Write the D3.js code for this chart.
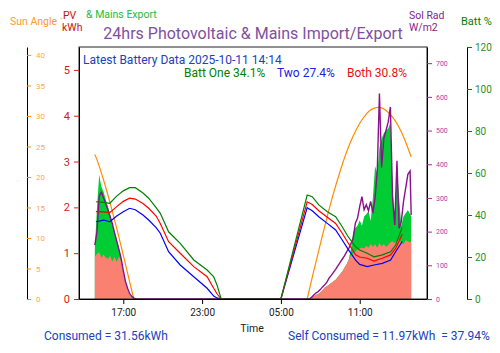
<!DOCTYPE html>
<html>
<head>
<meta charset="utf-8">
<script src="https://cdn.jsdelivr.net/npm/d3@7"></script>
<style>
    body { margin: 0; background: #fff; }
    svg { font-family: Roboto, sans-serif; display: block; }
</style>
</head>
<body>
<div id="chart"></div>
<script>
// 10 minute solar samples (night is zero between 18:00 and 07:00)
var pvTimes = [
    '2025-10-10 14:50', '2025-10-10 15:00', '2025-10-10 15:10', '2025-10-10 15:20', '2025-10-10 15:30',
    '2025-10-10 15:40', '2025-10-10 15:50', '2025-10-10 16:00', '2025-10-10 16:10', '2025-10-10 16:20',
    '2025-10-10 16:30', '2025-10-10 16:40', '2025-10-10 16:50', '2025-10-10 17:00', '2025-10-10 17:10',
    '2025-10-10 17:20', '2025-10-10 17:30', '2025-10-10 17:40', '2025-10-10 17:50', '2025-10-10 18:00',
    '2025-10-11 07:00', '2025-10-11 07:10', '2025-10-11 07:20', '2025-10-11 07:30', '2025-10-11 07:40',
    '2025-10-11 07:50', '2025-10-11 08:00', '2025-10-11 08:10', '2025-10-11 08:20', '2025-10-11 08:30',
    '2025-10-11 08:40', '2025-10-11 08:50', '2025-10-11 09:00', '2025-10-11 09:10', '2025-10-11 09:20',
    '2025-10-11 09:30', '2025-10-11 09:40', '2025-10-11 09:50', '2025-10-11 10:00', '2025-10-11 10:10',
    '2025-10-11 10:20', '2025-10-11 10:30', '2025-10-11 10:40', '2025-10-11 10:50', '2025-10-11 11:00',
    '2025-10-11 11:10', '2025-10-11 11:20', '2025-10-11 11:30', '2025-10-11 11:40', '2025-10-11 11:50',
    '2025-10-11 12:00', '2025-10-11 12:10', '2025-10-11 12:20', '2025-10-11 12:30', '2025-10-11 12:40',
    '2025-10-11 12:50', '2025-10-11 13:00', '2025-10-11 13:10', '2025-10-11 13:20', '2025-10-11 13:30',
    '2025-10-11 13:40', '2025-10-11 13:50', '2025-10-11 14:00', '2025-10-11 14:10', '2025-10-11 14:20',
    '2025-10-11 14:30', '2025-10-11 14:40', '2025-10-11 14:50', '2025-10-11 14:55'
];
var pvKwh = [
    1.1, 2.0, 2.71, 2.45, 2.34, 2.17, 2.02, 1.84, 1.64, 1.45,
    1.3, 1.12, 0.9, 0.55, 0.33, 0.18, 0.07, 0.02, 0, 0,
    0, 0.01, 0.03, 0.06, 0.09, 0.11, 0.14, 0.19, 0.25, 0.28,
    0.31, 0.35, 0.39, 0.42, 0.48, 0.54, 0.6, 0.68, 0.76, 0.86,
    1.1, 1.45, 1.55, 1.6, 1.72, 1.6, 1.8, 1.85, 1.92, 1.7,
    2.2, 2.9, 2.75, 3.3, 3.5, 3.62, 3.68, 3.72, 3.85, 2.4,
    1.75, 2.85, 2.2, 1.6, 1.8, 1.87, 1.94, 1.85, 1.8
];
var selfKwh = [
    0.92, 0.98, 1.02, 0.9, 0.97, 0.9, 0.88, 0.95, 0.82, 0.92,
    0.81, 0.93, 0.82, 0.55, 0.33, 0.18, 0.07, 0.02, 0, 0,
    0, 0.01, 0.03, 0.06, 0.09, 0.11, 0.14, 0.19, 0.25, 0.28,
    0.31, 0.35, 0.39, 0.42, 0.48, 0.54, 0.6, 0.68, 0.76, 0.86,
    0.95, 1.0, 1.03, 1.08, 1.1, 1.12, 1.1, 1.16, 1.12, 1.2,
    1.14, 1.2, 1.12, 1.22, 1.15, 1.2, 1.14, 1.18, 1.24, 1.26,
    1.22, 1.28, 1.3, 1.22, 1.2, 1.28, 1.26, 1.24, 1.25
];
var solRad = [
    160, 200, 305, 317, 300, 283, 264, 244, 224, 197,
    172, 147, 121, 85, 52, 31, 15, 7, 2, 0,
    0, 0, 5, 12, 18, 22, 28, 36, 42, 50,
    62, 70, 79, 88, 98, 108, 118, 128, 140, 150,
    165, 180, 225, 240, 275, 304, 265, 280, 262, 290,
    255, 300, 380, 610, 390, 477, 500, 525, 570, 300,
    220, 410, 210, 230, 290, 330, 370, 380, 249
];

// sun elevation, null while below the horizon
var sunTimes = [
    '2025-10-10 14:50', '2025-10-10 15:00', '2025-10-10 15:30', '2025-10-10 16:00', '2025-10-10 16:30',
    '2025-10-10 17:00', '2025-10-10 17:30', '2025-10-10 17:48', '2025-10-11 00:00',
    '2025-10-11 07:00', '2025-10-11 07:30', '2025-10-11 08:00', '2025-10-11 08:30', '2025-10-11 09:00',
    '2025-10-11 09:30', '2025-10-11 10:00', '2025-10-11 10:30', '2025-10-11 11:00', '2025-10-11 11:30',
    '2025-10-11 12:00', '2025-10-11 12:30', '2025-10-11 13:00', '2025-10-11 13:30', '2025-10-11 14:00',
    '2025-10-11 14:30', '2025-10-11 14:55'
];
var sunAngle = [
    23.7, 22.8, 19.5, 15.7, 11.6, 7.2, 2.7, 0, null,
    0, 4.6, 9.0, 13.3, 17.3, 20.9, 24.1, 26.7, 28.8, 30.3,
    31.2, 31.4, 30.9, 29.8, 28.1, 25.7, 23.3
];

// battery state of charge %
var battTimes = [
    '2025-10-10 14:55', '2025-10-10 15:30', '2025-10-10 15:58', '2025-10-10 16:30', '2025-10-10 17:00',
    '2025-10-10 17:29', '2025-10-10 17:55', '2025-10-10 18:30', '2025-10-10 18:56', '2025-10-10 19:30',
    '2025-10-10 19:49', '2025-10-10 20:27', '2025-10-10 21:20', '2025-10-10 22:22', '2025-10-10 23:23',
    '2025-10-10 23:53', '2025-10-11 00:08', '2025-10-11 00:27', '2025-10-11 05:00', '2025-10-11 07:00',
    '2025-10-11 07:23', '2025-10-11 07:53', '2025-10-11 08:32', '2025-10-11 09:10', '2025-10-11 09:40',
    '2025-10-11 10:05', '2025-10-11 10:41', '2025-10-11 11:00', '2025-10-11 11:34', '2025-10-11 12:05',
    '2025-10-11 12:43', '2025-10-11 13:21', '2025-10-11 13:44', '2025-10-11 14:14'
];
var battOne = [
    46.3, 46.0, 45.6, 49, 51.5, 53, 53, 50.5, 48, 43.5,
    40.8, 32, 26.5, 18.6, 13.8, 10.6, 6.7, 0, 0, 49.5,
    48.7, 44.8, 41.6, 39.2, 34.4, 30, 24.9, 23.3, 21.8, 20.1,
    21, 22.5, 25.7, 34.1
];
var battTwo = [
    36.8, 37.6, 36.8, 39.5, 41.5, 43.2, 42.5, 40, 37.6, 34,
    31.3, 22.5, 16.2, 10.6, 5.1, 1.4, 0.5, 0, 0, 43.5,
    42, 39.2, 36, 32.9, 28.1, 24, 18.5, 16.5, 15.4, 16.2,
    17, 18.6, 22.5, 27.4
];
var battBoth = [
    41.6, 41.5, 41.1, 44, 46.5, 48, 47.6, 45.5, 43.2, 39.5,
    36, 27.3, 21.8, 15.4, 10.6, 5.1, 2.5, 0, 0, 46.3,
    45, 42, 38.9, 36, 31.3, 27, 21, 20, 19.4, 18.1,
    19.4, 21, 24.1, 30.8
];

var xTicks = ['2025-10-10 17:00', '2025-10-10 23:00', '2025-10-11 05:00', '2025-10-11 11:00'];
var kwhTicks = [0, 1, 2, 3, 4, 5];
var sunTicks = [0, 5, 10, 15, 20, 25, 30, 35, 40];
var radTicks = [0, 100, 200, 300, 400, 500, 600, 700];
var battTicks = [0, 20, 40, 60, 80, 100, 120];

var plotLeft = 79, plotRight = 427, plotTop = 47, plotBottom = 299;
var parse = d3.timeParse('%Y-%m-%d %H:%M');

var svg = d3.select('#chart')
    .append('svg')
    .attr('width', 500)
    .attr('height', 353);

var pvData = pvTimes.map((t, i) => ({ t: parse(t), pv: pvKwh[i], self: selfKwh[i], rad: solRad[i] }));
var sunData = sunTimes.map((t, i) => ({ t: parse(t), v: sunAngle[i] }));
var battData = battTimes.map((t, i) => ({ t: parse(t), one: battOne[i], two: battTwo[i], both: battBoth[i] }));

var span = d3.extent(pvData, (d) => d.t);
var pad = (span[1] - span[0]) * 0.05;

var x = d3.scaleTime()
    .domain([new Date(+span[0] - pad), new Date(+span[1] + pad)])
    .range([plotLeft, plotRight]);
var yKwh = d3.scaleLinear().domain([0, 5.5]).range([plotBottom, plotTop]);
var ySun = d3.scaleLinear().domain([0, 41.3]).range([plotBottom, plotTop]);
var yRad = d3.scaleLinear().domain([0, 748]).range([plotBottom, plotTop]);
var yBatt = d3.scaleLinear().domain([0, 120]).range([plotBottom, plotTop]);

// areas: total PV (green = export part) with self consumed on top
svg.append('path')
    .datum(pvData)
    .attr('fill', '#00cc33')
    .attr('d', d3.area().x((d) => x(d.t)).y0(yKwh(0)).y1((d) => yKwh(d.pv)));
svg.append('path')
    .datum(pvData)
    .attr('fill', 'salmon')
    .attr('d', d3.area().x((d) => x(d.t)).y0(yKwh(0)).y1((d) => yKwh(d.self)));

svg.append('path')
    .datum(sunData)
    .attr('fill', 'none')
    .attr('stroke', 'darkorange')
    .attr('stroke-width', 1.2)
    .attr('d', d3.line().defined((d) => d.v !== null).curve(d3.curveMonotoneX)
        .x((d) => x(d.t)).y((d) => ySun(d.v)));

svg.append('path')
    .datum(pvData)
    .attr('fill', 'none')
    .attr('stroke', '#8b108b')
    .attr('stroke-width', 1.4)
    .attr('d', d3.line().x((d) => x(d.t)).y((d) => yRad(d.rad)));

[['two', 'blue'], ['both', 'red'], ['one', 'green']].forEach(function (s) {
    svg.append('path')
        .datum(battData)
        .attr('fill', 'none')
        .attr('stroke', s[1])
        .attr('stroke-width', 1.2)
        .attr('d', d3.line().x((d) => x(d.t)).y((d) => yBatt(d[s[0]])));
});

svg.append('rect')
    .attr('x', plotLeft)
    .attr('y', plotTop)
    .attr('width', plotRight - plotLeft)
    .attr('height', plotBottom - plotTop)
    .attr('fill', 'none')
    .attr('stroke', '#222');

function styleAxis(g, colour, size, textColour) {
    g.select('.domain').attr('stroke', '#000');
    g.selectAll('.tick line').attr('stroke', colour);
    g.selectAll('.tick text')
        .attr('fill', textColour || colour)
        .style('font-size', size + 'px')
        .style('font-family', 'Roboto, sans-serif');
}

svg.append('g')
    .attr('transform', `translate(0,${plotBottom})`)
    .call(d3.axisBottom(x).tickValues(xTicks.map(parse)).tickFormat(d3.timeFormat('%H:%M'))
        .tickSize(5).tickSizeOuter(0).tickPadding(5))
    .call((g) => styleAxis(g, '#000', 10, '#222'));

svg.append('g')
    .attr('transform', `translate(${plotLeft},0)`)
    .call(d3.axisLeft(yKwh).tickValues(kwhTicks).tickFormat(d3.format('d'))
        .tickSize(5).tickSizeOuter(0).tickPadding(4))
    .call((g) => styleAxis(g, '#cc2222', 11));

svg.append('g')
    .attr('transform', 'translate(27,0)')
    .call(d3.axisRight(ySun).tickValues(sunTicks).tickSize(4).tickSizeOuter(0).tickPadding(5))
    .call((g) => styleAxis(g, 'darkorange', 8, '#ffaa44'));

svg.append('g')
    .attr('transform', `translate(${plotRight},0)`)
    .call(d3.axisRight(yRad).tickValues(radTicks).tickSize(5).tickSizeOuter(0).tickPadding(4))
    .call((g) => styleAxis(g, '#aa22aa', 7, '#aa44aa'));

svg.append('g')
    .attr('transform', 'translate(467,0)')
    .call(d3.axisRight(yBatt).tickValues(battTicks).tickSize(5).tickSizeOuter(0).tickPadding(3))
    .call((g) => styleAxis(g, 'green', 10, '#2a912a'));

function label(txt, lx, ly, colour, size, anchor) {
    svg.append('text')
        .attr('x', lx)
        .attr('y', ly)
        .attr('fill', colour)
        .attr('text-anchor', anchor || 'start')
        .style('font-size', size + 'px')
        .style('white-space', 'pre')
        .text(txt);
}

label('24hrs Photovoltaic & Mains Import/Export', 253, 39, '#8050a0', 16, 'middle');
label('Sun Angle', 10, 25, '#ff9933', 10.5);
label('.', 60, 19, '#ff9933', 10.5);
label('PV', 63, 19, '#cc1111', 10.5);
label('kWh', 62, 31, '#cc1111', 10.5);
label('& Mains Export', 86, 18, '#22bb44', 10.5);
label('Sol Rad', 409, 19, '#882288', 10.5);
label('W/m2', 409, 31, '#882288', 10.5);
label('Batt %', 461, 25, 'green', 11);

label('Latest Battery Data 2025-10-11 14:14', 83, 64, '#2040c0', 12);
label('Batt One 34.1%', 184, 77, 'green', 12);
label('Two 27.4%', 277, 77, '#2020e0', 12);
label('Both 30.8%', 347, 77, '#ee1111', 12);

label('Time', 252, 332, '#222', 10.5, 'middle');
label('Consumed = 31.56kWh', 44, 340, '#2040c0', 12);
label('Self Consumed = 11.97kWh  = 37.94%', 288, 340, '#2040c0', 12);
</script>
</body>
</html>
